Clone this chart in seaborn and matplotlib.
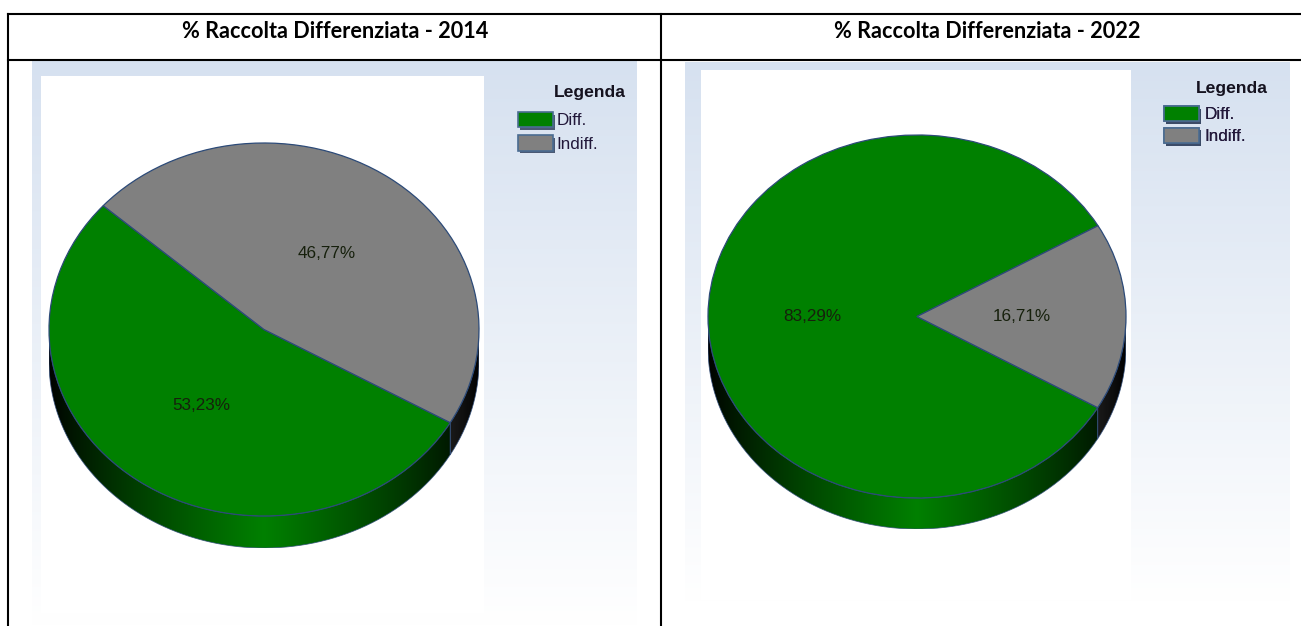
import numpy as np
import matplotlib
matplotlib.use("Agg")
import matplotlib.pyplot as plt
import matplotlib.patheffects as pe
from matplotlib.patches import Patch, PathPatch, Rectangle
from matplotlib.path import Path
from matplotlib.colors import to_rgb
import seaborn as sns

categories = ["Diff.", "Indiff."]
values_2014 = [53.23, 46.77]
values_2022 = [83.29, 16.71]
titles = ["% Raccolta Differenziata - 2014", "% Raccolta Differenziata - 2022"]
legend_title = "Legenda"
colors = sns.color_palette(["#008000", "#808080"])

W, H = 1301, 626
EDGE = "#2c4a78"
sns.set_theme(style="white")
plt.rcParams["font.family"] = ["Liberation Sans", "DejaVu Sans"]

fig = plt.figure(figsize=(W / 100, H / 100), dpi=100)
bg = fig.add_axes([0, 0, 1, 1])
bg.set_xlim(0, W)
bg.set_ylim(H, 0)
bg.axis("off")


def panel_bg(x0, x1, y0, y1):
    top = np.array(to_rgb("#d6e1f0"))
    t = np.linspace(0, 1, 256)[:, None, None]
    img = top[None, None, :] * (1 - t) + t
    bg.imshow(img, extent=(x0, x1, y1, y0), aspect="auto", zorder=1, interpolation="bilinear")


def draw_pie(values, start, box, depth_px):
    left, right, top, bottom = box
    ry = (bottom - top) / 2
    d = depth_px / ry
    ax = fig.add_axes([left / W, 1 - (bottom + depth_px) / H, (right - left) / W, (bottom + depth_px - top) / H])
    ax.set_facecolor("none")
    wedges, _, autotexts = ax.pie(
        values, colors=colors, startangle=start, counterclock=True, radius=1,
        autopct=lambda p: f"{p:.2f}%".replace(".", ","), pctdistance=0.5,
        wedgeprops=dict(edgecolor=EDGE, linewidth=0.9, zorder=3),
        textprops=dict(fontsize=12.3, color="#16200c"),
    )
    for t in autotexts:
        t.set_zorder(5)
    x = np.linspace(-1, 1, 600)
    bright = ((1 - np.abs(x)) ** 0.8)[None, :, None]
    for w, col in zip(wedges, colors):
        # visible front side of each slice
        angs = np.linspace(w.theta1, w.theta2, 720)
        angs = angs[np.sin(np.radians(angs)) <= 0]
        if angs.size < 2:
            continue
        cx, cy = np.cos(np.radians(angs)), np.sin(np.radians(angs))
        poly = np.vstack([np.c_[cx, cy], np.c_[cx, cy - d][::-1], [[cx[0], cy[0]]]])
        patch = PathPatch(Path(poly), transform=ax.transData, facecolor="none", edgecolor="none")
        ax.add_patch(patch)
        img = np.array(col)[None, None, :] * bright
        im = ax.imshow(img, extent=(-1, 1, -1 - d, 1), aspect="auto", zorder=2, interpolation="bilinear")
        im.set_clip_path(patch)
        ax.plot(poly[:, 0], poly[:, 1], color=EDGE, lw=0.6, alpha=0.8, zorder=2.5)
    ax.set_xlim(-1, 1)
    ax.set_ylim(-1 - d, 1)
    ax.set_aspect("auto")
    ax.axis("off")
    return ax


def draw_legend(x_swatch, y_first, x_title, y_title, spacing, pad):
    handles = [Patch(facecolor=c, edgecolor="#4a6c92", linewidth=1.2,
                     path_effects=[pe.SimplePatchShadow(offset=(1.5, -2), shadow_rgbFace="#3a4a66", alpha=0.9), pe.Normal()])
               for c in colors]
    leg = bg.legend(handles, categories, loc="upper left",
                    bbox_to_anchor=(x_swatch / W, 1 - y_first / H), bbox_transform=fig.transFigure,
                    frameon=False, borderpad=0, borderaxespad=0, handlelength=2.05, handleheight=1.0,
                    handletextpad=pad, labelspacing=spacing, fontsize=12.3, labelcolor="#22183a")
    bg.add_artist(leg)
    bg.text(x_title, y_title, legend_title, fontsize=12.6, fontweight="bold", color="#15121f",
            ha="right", va="center", zorder=6)


# panel backgrounds and white plot areas
panel_bg(32, 637, 60, 626)
bg.add_patch(Rectangle((41, 76), 443, 537, fc="white", ec="none", zorder=2))
panel_bg(685, 1290, 62, 602)
bg.add_patch(Rectangle((701, 70), 430, 530, fc="white", ec="none", zorder=2))

draw_pie(values_2014, 138.4, (49, 479, 143, 516), 32)
draw_pie(values_2022, 30.0, (708, 1126, 135, 498), 31)

draw_legend(518, 112, 626, 93, 0.4, 0.2)
draw_legend(1164, 106, 1268, 88, 0.3, 0.3)

# table grid
for x0, x1, y0, y1 in [(8, W, 14, 14), (8, W, 60, 60), (8, 8, 14, H), (661, 661, 14, H)]:
    bg.plot([x0, x1], [y0, y1], color="black", lw=1.5, zorder=8, solid_capstyle="projecting")
bg.set_xlim(0, W)
bg.set_ylim(H, 0)
bg.text(335, 32, titles[0], fontsize=15.6, fontweight="bold", family="Lato", ha="center", va="center", color="black", zorder=9)
bg.text(987, 32, titles[1], fontsize=15.6, fontweight="bold", family="Lato", ha="center", va="center", color="black", zorder=9)

fig.savefig("out.png", dpi=100)
